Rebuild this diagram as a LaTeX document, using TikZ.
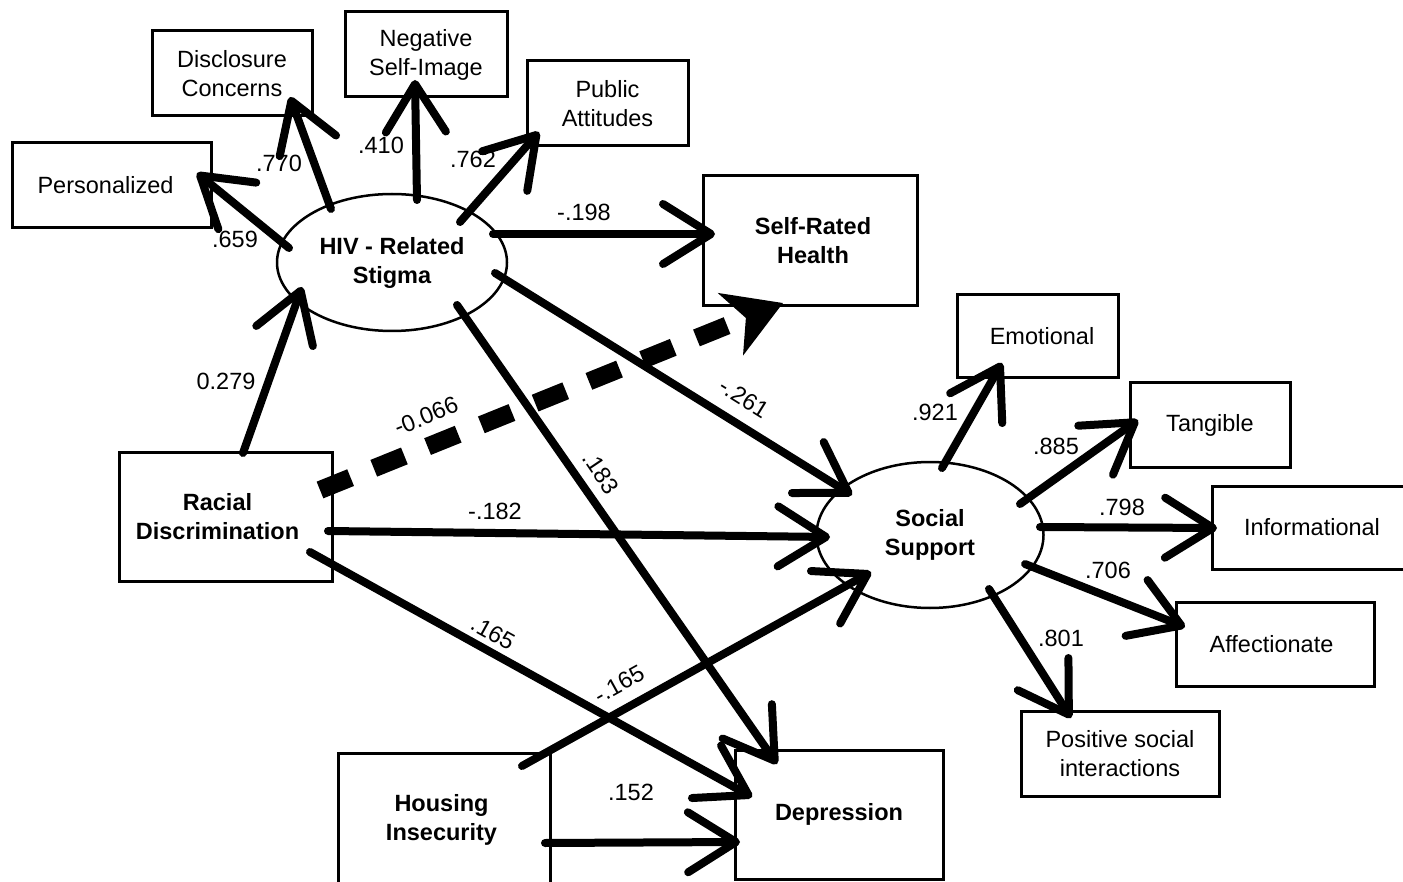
\documentclass[tikz,border=0pt]{standalone}
\usepackage{fontspec}
\setmainfont{Liberation Sans}
\usetikzlibrary{arrows.meta,shapes.geometric}
\newcommand{\diagfont}{\fontsize{23.5}{29}\selectfont}
\begin{document}
\begin{tikzpicture}[x=1pt,y=-1pt,
  box/.style={draw,line width=3pt,inner sep=0pt,align=center,font=\diagfont},
  boldbox/.style={box,font=\diagfont\bfseries},
  ell/.style={draw,ellipse,line width=2.5pt,inner sep=0pt,align=center,font=\diagfont\bfseries},
  arr/.style={line width=8pt,line cap=round,-{Straight Barb[length=48pt,width=60pt,round]}},
  dasharr/.style={line width=18pt,dash pattern=on 33pt off 25pt,-{Stealth[length=56pt,width=66pt,inset=16pt]}},
  lab/.style={font=\diagfont,inner sep=0pt}]
\useasboundingbox (0,0) rectangle (1403,882);
% nodes
\node[box,minimum width=199,minimum height=85] (pers) at (111.5,185.5) {Personalized\hspace*{12pt}};
\node[box,minimum width=160,minimum height=85] (disc) at (232,73.5) {Disclosure\\Concerns};
\node[box,minimum width=162,minimum height=85] (neg) at (426,54.5) {Negative\\Self-Image};
\node[box,minimum width=161,minimum height=85] (pub) at (607.5,103.5) {Public\\Attitudes};
\node[boldbox,minimum width=214,minimum height=130] (srh) at (810,241) {\hspace*{6pt}Self-Rated\\\hspace*{6pt}Health};
\node[ell,minimum width=230,minimum height=137] (hiv) at (392,262.5) {HIV - Related\\Stigma};
\node[boldbox,minimum width=213,minimum height=129] (rd) at (225.5,516.5) {Racial\hspace*{16pt}\\Discrimination\hspace*{16pt}};
\node[ell,minimum width=227,minimum height=146] (ss) at (930,535) {Social\\Support};
\node[box,minimum width=161,minimum height=83] (emo) at (1037.5,336.5) {\hspace*{9pt}Emotional};
\node[box,minimum width=160,minimum height=84] (tan) at (1210,425) {Tangible};
\node[box,minimum width=200,minimum height=83] (inf) at (1312,527.5) {Informational};
\node[box,minimum width=198,minimum height=84] (aff) at (1275,644) {Affectionate\hspace*{7pt}};
\node[box,minimum width=198,minimum height=85] (pos) at (1120,753.5) {Positive social\\interactions};
\node[boldbox,minimum width=212,minimum height=133] (hous) at (444,819.5) {Housing\hspace*{5pt}\\Insecurity\hspace*{5pt}};
\node[boldbox,minimum width=208,minimum height=129] (dep) at (839,814.5) {Depression};
% coordinates
\coordinate (sPers) at (289,248); \coordinate (tPers) at (197,173);
\coordinate (sDisc) at (331,209); \coordinate (tDisc) at (290,97);
\coordinate (sNeg) at (417,200); \coordinate (tNeg) at (415,80);
\coordinate (sPub) at (460,222); \coordinate (tPub) at (539,132);
\coordinate (sSrh) at (493,234); \coordinate (tSrh) at (715,234);
\coordinate (sHss) at (495,273); \coordinate (tHss) at (852,495);
\coordinate (sHdep) at (457,305); \coordinate (tHdep) at (777,764);
\coordinate (sRh) at (243,453); \coordinate (tRh) at (302,287);
\coordinate (sRd) at (320,490); \coordinate (tRd) at (783,303);
\coordinate (sRss) at (328,531); \coordinate (tRss) at (830,537);
\coordinate (sRdep) at (310,552); \coordinate (tRdep) at (752,797);
\coordinate (sHoss) at (522,766); \coordinate (tHoss) at (871,572);
\coordinate (sHodep) at (545,843); \coordinate (tHodep) at (740,842);
\coordinate (sEmo) at (942,468); \coordinate (tEmo) at (1002,363);
\coordinate (sTan) at (1020,504); \coordinate (tTan) at (1138,420);
\coordinate (sInf) at (1040,527); \coordinate (tInf) at (1217,528);
\coordinate (sAff) at (1025,564); \coordinate (tAff) at (1185,627);
\coordinate (sPos) at (989,589); \coordinate (tPos) at (1071,718);
% connectors
\draw[arr] (sPers) -- (tPers);
\draw[arr] (sDisc) -- (tDisc);
\draw[arr] (sNeg) -- (tNeg);
\draw[arr] (sPub) -- (tPub);
\draw[arr] (sSrh) -- (tSrh);
\draw[arr] (sHss) -- (tHss);
\draw[arr] (sHdep) -- (tHdep);
\draw[arr] (sRh) -- (tRh);
\draw[dasharr] (sRd) -- (tRd);
\draw[arr] (sRss) -- (tRss);
\draw[arr] (sRdep) -- (tRdep);
\draw[arr] (sHoss) -- (tHoss);
\draw[arr] (sHodep) -- (tHodep);
\draw[arr] (sEmo) -- (tEmo);
\draw[arr] (sTan) -- (tTan);
\draw[arr] (sInf) -- (tInf);
\draw[arr] (sAff) -- (tAff);
\draw[arr] (sPos) -- (tPos);
% labels
\node[lab] (l1) at (235,239) {.659};
\node[lab] (l2) at (279,163) {.770};
\node[lab] (l3) at (381,145) {.410};
\node[lab] (l4) at (473,159) {.762};
\node[lab] (l5) at (584,212) {-.198};
\node[lab] (l6) at (226,381) {0.279};
\node[lab,rotate=22] (l7) at (426,416) {-0.066};
\node[lab,rotate=-32] (l8) at (744,398) {-.261};
\node[lab,rotate=-56] (l9) at (601,473) {.183};
\node[lab] (l10) at (495,511) {-.182};
\node[lab,rotate=-29] (l11) at (493,633) {.165};
\node[lab,rotate=29] (l12) at (619,684) {-.165};
\node[lab] (l13) at (631,792) {.152};
\node[lab] (l14) at (935,412) {.921};
\node[lab] (l15) at (1056,446) {.885};
\node[lab] (l16) at (1122,507) {.798};
\node[lab] (l17) at (1108,570) {.706};
\node[lab] (l18) at (1061,638) {.801};
\end{tikzpicture}
\end{document}
